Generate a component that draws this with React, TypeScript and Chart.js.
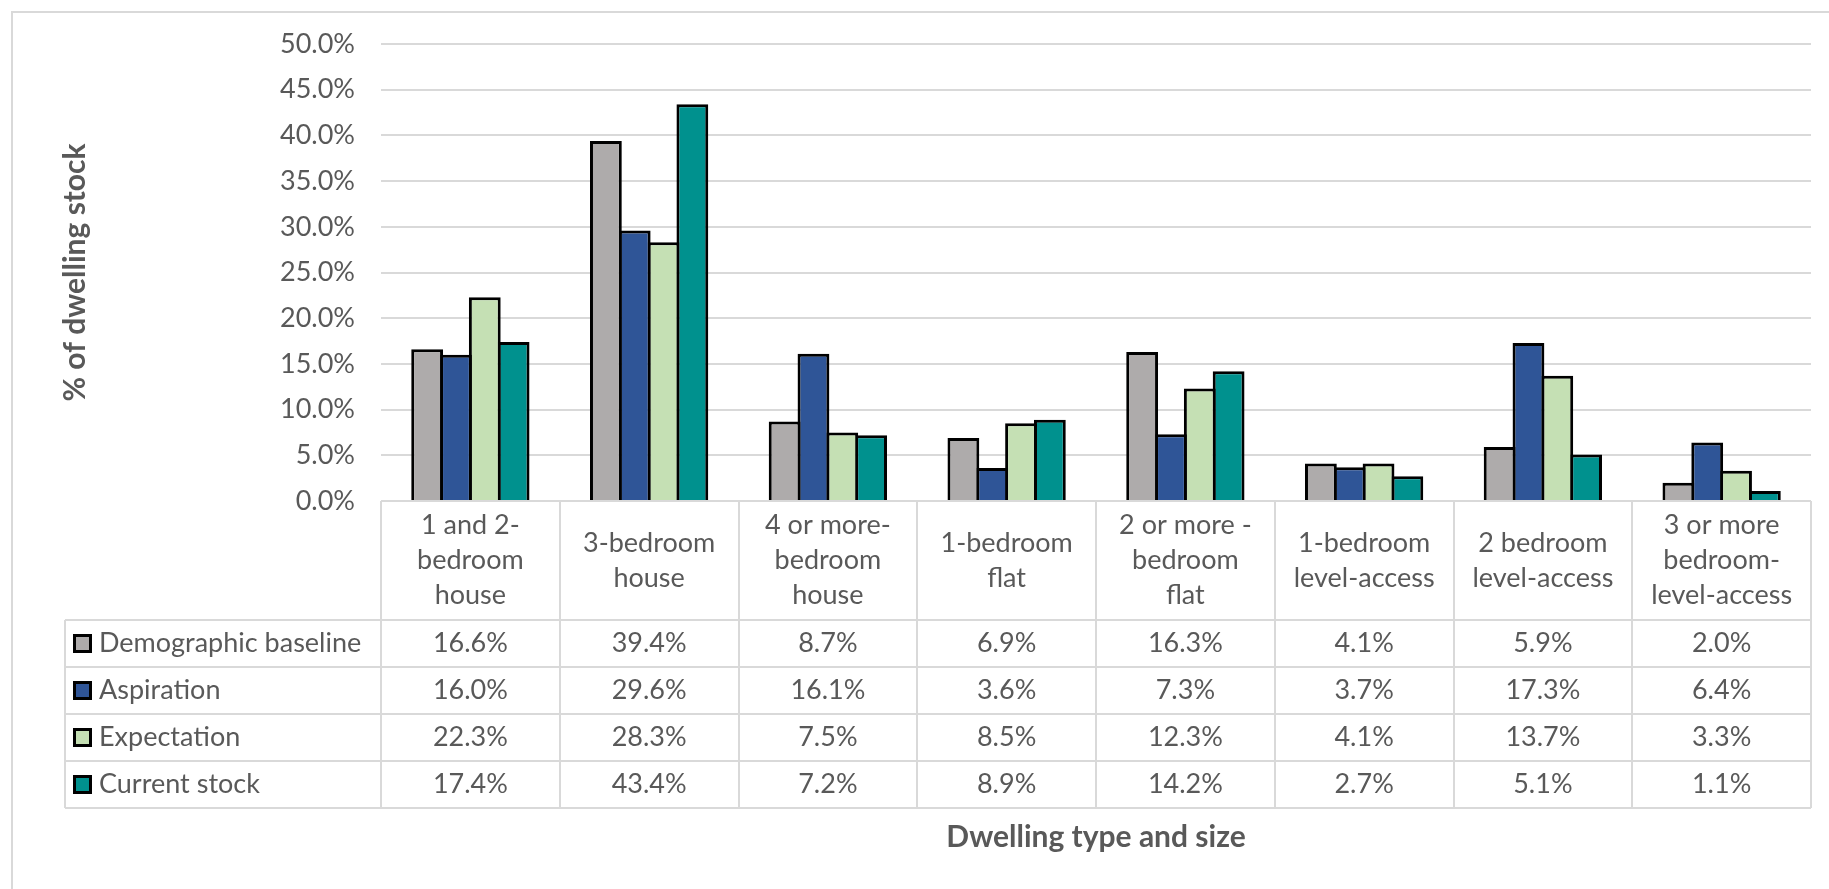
import React, { useEffect, useRef } from "react";
import { Chart, registerables } from "chart.js";

Chart.register(...registerables);

// Category labels, one entry per line of the header cell
const categories: string[][] = [
  ["1 and 2-", "bedroom", "house"],
  ["3-bedroom", "house"],
  ["4 or more-", "bedroom", "house"],
  ["1-bedroom", "flat"],
  ["2 or more -", "bedroom", "flat"],
  ["1-bedroom", "level-access"],
  ["2 bedroom", "level-access"],
  ["3 or more", "bedroom-", "level-access"],
];

// Share of dwelling stock, in percent
const demographicBaseline = [16.6, 39.4, 8.7, 6.9, 16.3, 4.1, 5.9, 2.0];
const aspiration = [16.0, 29.6, 16.1, 3.6, 7.3, 3.7, 17.3, 6.4];
const expectation = [22.3, 28.3, 7.5, 8.5, 12.3, 4.1, 13.7, 3.3];
const currentStock = [17.4, 43.4, 7.2, 8.9, 14.2, 2.7, 5.1, 1.1];

const seriesNames = ["Demographic baseline", "Aspiration", "Expectation", "Current stock"];
const seriesValues = [demographicBaseline, aspiration, expectation, currentStock];
const seriesColors = ["#AEABAB", "#2F5597", "#C5E0B4", "#00918E"];

const yMax = 50;
const yStep = 5;

const yTitle = "% of dwelling stock";
const xTitle = "Dwelling type and size";

const TEXT = "#595959";
const LINE = "#D9D9D9";
const FAMILY = "Lato, 'Open Sans', sans-serif";
const SIZE = 27;
const TITLE_SIZE = 30;

const HEADER_H = 119;
const ROW_H = 47;
const TABLE_LEFT = 65;
const SWATCH = 19;

// Draws the data table (header, rows, legend keys) and the x-axis title
const dataTablePlugin = {
  id: "dataTable",
  afterDraw(chart: any) {
    const { ctx, chartArea } = chart;
    const xs = chart.scales.x;
    const n = categories.length;
    const colW = (chartArea.right - chartArea.left) / n;
    const top = Math.round(chartArea.bottom);
    const rowsTop = top + HEADER_H;
    const bottom = rowsTop + ROW_H * seriesNames.length;
    const left = chartArea.left;
    const right = chartArea.right;

    ctx.save();
    ctx.strokeStyle = LINE;
    ctx.lineWidth = 2;
    ctx.beginPath();
    ctx.moveTo(left, top);
    ctx.lineTo(right, top);
    for (let r = 0; r <= seriesNames.length; r++) {
      const y = rowsTop + r * ROW_H;
      ctx.moveTo(TABLE_LEFT, y);
      ctx.lineTo(right, y);
    }
    for (let i = 0; i <= n; i++) {
      const x = Math.round(left + i * colW);
      ctx.moveTo(x, top);
      ctx.lineTo(x, bottom);
    }
    ctx.moveTo(TABLE_LEFT, rowsTop);
    ctx.lineTo(TABLE_LEFT, bottom);
    ctx.stroke();

    ctx.fillStyle = TEXT;
    ctx.font = `${SIZE}px ${FAMILY}`;
    ctx.textAlign = "center";
    ctx.textBaseline = "middle";

    // header labels
    const headerMid = top + HEADER_H / 2;
    const lh = 35;
    categories.forEach((lines, i) => {
      const cx = xs.getPixelForValue(i);
      lines.forEach((line, j) => {
        const y = headerMid + (j - (lines.length - 1) / 2) * lh;
        ctx.fillText(line, cx, y);
      });
    });

    // value rows
    seriesValues.forEach((vals, r) => {
      const cy = rowsTop + r * ROW_H + ROW_H / 2;
      vals.forEach((v, i) => {
        const cx = xs.getPixelForValue(i);
        ctx.fillStyle = TEXT;
        ctx.textAlign = "center";
        ctx.fillText(v.toFixed(1) + "%", cx, cy);
      });
      // legend key
      const sx = TABLE_LEFT + 8;
      const sy = Math.round(cy - SWATCH / 2);
      ctx.fillStyle = "#000";
      ctx.fillRect(sx, sy, SWATCH, SWATCH);
      ctx.fillStyle = seriesColors[r];
      ctx.fillRect(sx + 3, sy + 3, SWATCH - 6, SWATCH - 6);
      ctx.fillStyle = TEXT;
      ctx.textAlign = "left";
      ctx.fillText(seriesNames[r], 99, cy);
    });

    // x-axis title
    ctx.font = `bold ${TITLE_SIZE}px ${FAMILY}`;
    ctx.textAlign = "center";
    ctx.fillStyle = TEXT;
    ctx.fillText(xTitle, (left + right) / 2, 837);
    ctx.restore();
  },
};

function DwellingChart() {
  const canvasRef = useRef<HTMLCanvasElement | null>(null);

  useEffect(() => {
    let chart: Chart | null = null;
    let cancelled = false;
    const build = () => {
      if (cancelled || !canvasRef.current) return;
      chart = new Chart(canvasRef.current, {
        type: "bar",
        data: {
          labels: categories,
          datasets: seriesNames.map((name, i) => ({
            label: name,
            data: seriesValues[i],
            backgroundColor: seriesColors[i],
            borderColor: "#000000",
            borderWidth: 3,
            borderSkipped: "start",
            categoryPercentage: 0.645,
            barPercentage: 1.104,
          })),
        },
        options: {
          animation: false,
          responsive: true,
          maintainAspectRatio: false,
          layout: { padding: { top: 44, right: 18, bottom: 388, left: 0 } },
          plugins: {
            legend: { display: false },
            tooltip: { enabled: false },
          },
          scales: {
            x: { type: "category", display: false, offset: true },
            y: {
              min: 0,
              max: yMax,
              afterFit: (scale: any) => {
                scale.width = 381;
              },
              ticks: {
                stepSize: yStep,
                padding: 26,
                color: TEXT,
                font: { family: FAMILY, size: SIZE },
                callback: (v: any) => Number(v).toFixed(1) + "%",
              },
              grid: { color: LINE, lineWidth: 2, drawTicks: false },
              border: { display: false },
              title: {
                display: true,
                text: yTitle,
                color: TEXT,
                font: { family: FAMILY, size: TITLE_SIZE, weight: "bold" },
                padding: { top: 57, bottom: 0 },
              },
            },
          },
        },
        plugins: [dataTablePlugin],
      });
    };
    const fonts = (document as any).fonts;
    if (fonts && fonts.load) {
      Promise.all([fonts.load(`${SIZE}px Lato`), fonts.load(`bold ${TITLE_SIZE}px Lato`)])
        .catch(() => undefined)
        .then(build);
    } else {
      build();
    }
    return () => {
      cancelled = true;
      if (chart) chart.destroy();
    };
  }, []);

  return (
    <div
      style={{
        position: "fixed",
        left: 0,
        top: 0,
        width: 1829,
        height: 889,
        overflow: "hidden",
        background: "#ffffff",
      }}
    >
      <div
        style={{
          position: "absolute",
          left: 11,
          top: 11,
          width: 1840,
          height: 900,
          border: `2px solid ${LINE}`,
          boxSizing: "border-box",
        }}
      />
      <div style={{ position: "absolute", left: 0, top: 0, width: 1829, height: 889 }}>
        <canvas ref={canvasRef} />
      </div>
    </div>
  );
}

export default function App() {
  return <DwellingChart />;
}
